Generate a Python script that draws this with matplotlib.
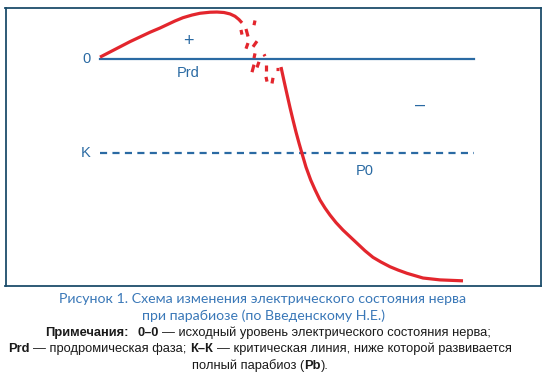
import matplotlib
matplotlib.use("Agg")
import matplotlib.pyplot as plt

# схема: время (усл. ед.) и потенциал (усл. ед., 0 = исходный уровень, -1 = критическая линия)
rise_t = [0, 1, 2, 3, 4, 5, 6, 6.7, 7.5, 8.3, 9.2, 10.0, 11.0, 11.7, 12.4, 13.0, 13.5, 13.9, 14.2]
rise_v = [0.02, 0.075, 0.13, 0.185, 0.235, 0.285, 0.33, 0.365, 0.405, 0.44, 0.468, 0.487, 0.498,
          0.50, 0.495, 0.48, 0.455, 0.42, 0.385]

# рваные штрихи переходной зоны: (t0, v0, t1, v1)
chaos = [
    (14.1, 0.31, 14.2, 0.26),
    (14.6, 0.32, 14.8, 0.24),
    (15.5, 0.41, 15.4, 0.36),
    (14.6, 0.11, 14.8, 0.17),
    (15.3, 0.13, 15.7, 0.19),
    (15.5, 0.06, 15.4, 0.01),
    (16.4, 0.05, 16.5, 0.03),
    (15.4, -0.06, 15.2, -0.14),
    (15.9, -0.03, 15.7, -0.09),
    (16.6, -0.06, 16.6, -0.13),
    (16.6, -0.19, 16.7, -0.24),
    (17.3, -0.20, 17.2, -0.26),
    (17.6, -0.11, 17.9, -0.11),
]

fall_t = [18.1, 18.4, 18.7, 19.0, 19.3, 19.6, 19.9, 20.2, 20.6, 21.07, 21.5, 22.0, 22.5, 23.0,
          23.6, 24.3, 25.0, 25.7, 26.5, 27.3, 28.1, 29.0, 29.8, 30.7, 32.3, 34.0, 36.3]
fall_v = [-0.085, -0.232, -0.375, -0.516, -0.649, -0.777, -0.894, -1.005, -1.15, -1.287, -1.39,
          -1.50, -1.585, -1.66, -1.74, -1.82, -1.89, -1.96, -2.04, -2.11, -2.16, -2.21, -2.245,
          -2.28, -2.33, -2.35, -2.36]

zero_level = 0.0
k_level = -1.0
line_end = 37.4

W, H = 547, 387
blue = "#2a6aa3"
red = "#e3262d"
frame = "#1d4d6b"

fig = plt.figure(figsize=(W / 100, H / 100), dpi=100)
ax = fig.add_axes([5.5 / W, 101 / H, 535 / W, 278 / H])
ax.set_xlim(-9.45, 44.05)
ax.set_ylim(-2.415, 0.543)
ax.set_xticks([])
ax.set_yticks([])
for s in ax.spines.values():
    s.set_color(frame)
    s.set_linewidth(1.3)

ax.plot([0, line_end], [zero_level, zero_level], color=blue, lw=1.6)
ax.plot([0, line_end], [k_level, k_level], color=blue, lw=1.6, ls=(0, (3.2, 2.4)))

red_kw = dict(color=red, lw=2.3, solid_capstyle="butt", solid_joinstyle="round")
ax.plot(rise_t, rise_v, **red_kw)
for t0, v0, t1, v1 in chaos:
    ax.plot([t0, t1], [v0, v1], **red_kw)
ax.plot(fall_t, fall_v, **red_kw)

lab = dict(color=blue, fontsize=10.5, ha="center", va="center", family="Liberation Sans")
ax.text(-1.3, zero_level, "0", **lab)
ax.text(-1.4, k_level, "K", **lab)
ax.text(8.8, 0.19, "+", color=blue, fontsize=13, ha="center", va="center", family="Liberation Sans")
ax.text(8.8, -0.15, "Prd", **lab)
ax.text(32.0, -0.49, "–", color=blue, fontsize=13, ha="center", va="center", family="Liberation Sans")
ax.text(26.5, -1.19, "P0", **lab)

# подпись
cap = dict(color="#3a78b8", fontsize=10.2, ha="center", va="center", family="Lato")
fig.text(263 / W, 1 - 299 / H, "Рисунок 1. Схема изменения электрического состояния нерва", **cap)
fig.text(263 / W, 1 - 316 / H, "при парабиозе (по Введенскому Н.Е.)", **cap)

# (y, центр, части: текст, жирный, пробелов перед)
notes = [
    (333, 268, [("Примечания:", True, 0), ("0–0", True, 2.5),
                ("— исходный уровень электрического состояния нерва;", False, 1)]),
    (349, 260, [("Prd", True, 0), ("— продромическая фаза;", False, 1), ("К–К", True, 1),
                ("— критическая линия, ниже которой развивается", False, 1)]),
    (366, 260, [("полный парабиоз (", False, 0), ("Pb", True, 0), (").", False, 0)]),
]

renderer = fig.canvas.get_renderer()
fam = "Liberation Sans"
size = 9.3
t_sp = fig.text(0, 0, "a a", fontsize=size, family=fam)
t_nosp = fig.text(0, 0, "aa", fontsize=size, family=fam)
sp_w = t_sp.get_window_extent(renderer).width - t_nosp.get_window_extent(renderer).width
t_sp.remove()
t_nosp.remove()
for y, xc, parts in notes:
    texts, widths = [], []
    for s, bold, gap in parts:
        t = fig.text(0, 1 - y / H, s, fontsize=size, family=fam, color="#1a1a1a",
                     fontweight="bold" if bold else "normal", va="center")
        texts.append(t)
        widths.append(t.get_window_extent(renderer).width)
    total = sum(widths) + sum(p[2] for p in parts) * sp_w
    x = xc - total / 2
    for t, w, (s, bold, gap) in zip(texts, widths, parts):
        x += gap * sp_w
        t.set_x(x / W)
        x += w

fig.savefig("out.png", dpi=100)
